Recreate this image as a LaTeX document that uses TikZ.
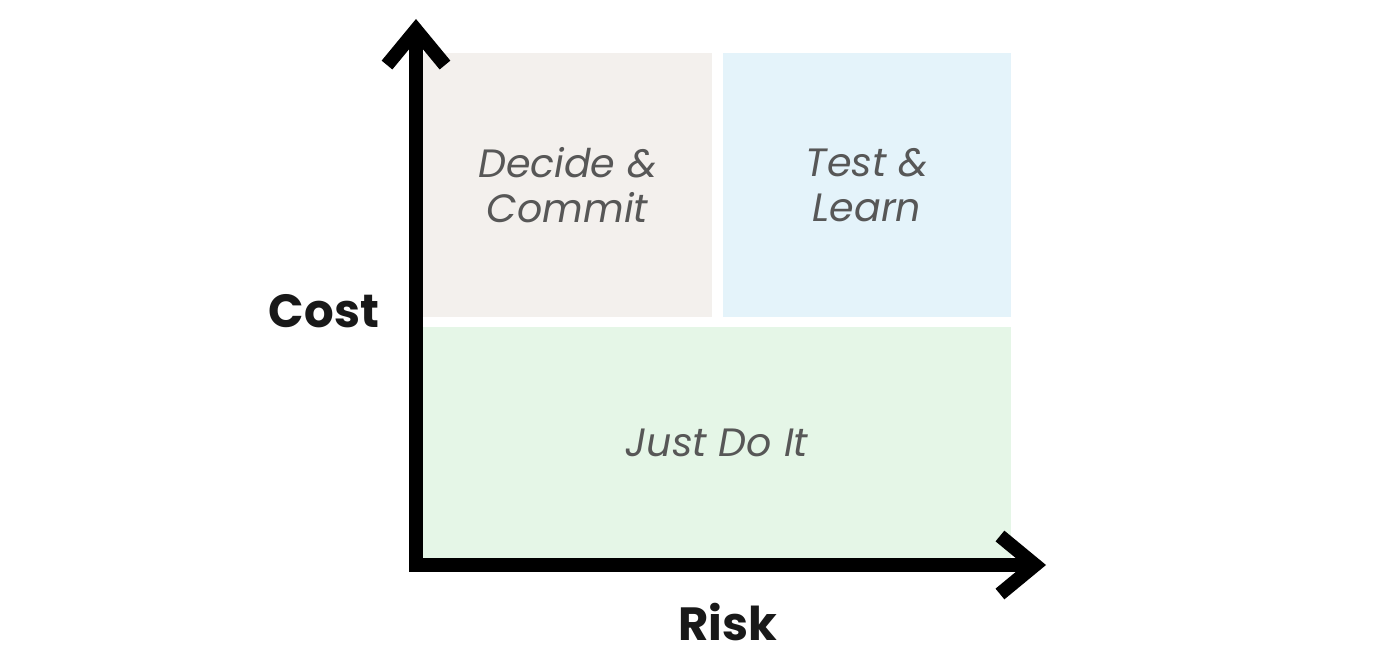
\documentclass[tikz,border=0pt]{standalone}
\usepackage{fontspec}
\setmainfont{Poppins}
\usepackage{tikz}
\usetikzlibrary{arrows.meta,positioning,calc}
\definecolor{quadDC}{HTML}{F3F0ED}
\definecolor{quadTL}{HTML}{E4F3FA}
\definecolor{quadJD}{HTML}{E5F6E7}
\definecolor{quadtxt}{HTML}{575757}

\begin{document}
\begin{tikzpicture}[
  quad/.style={rectangle,draw=none,inner sep=0pt,align=center,
    text=quadtxt,font=\fontsize{22.5}{25.5}\selectfont\itshape},
  axislbl/.style={font=\fontsize{26.5}{30}\selectfont\bfseries,text=black!90},
  axis/.style={line width=7.9pt,line join=miter,
    {Straight Barb[length=20pt,width=33pt]}-{Straight Barb[length=20pt,width=33pt]}}
]
% ── Fond et cadre ────────────────────────────────────────────────────────────
\useasboundingbox[fill=white](0,0)rectangle(28,13.1);

% ── Quadrants ────────────────────────────────────────────────────────────────
\node[quad,fill=quadDC,minimum width=5.78cm,minimum height=5.28cm]
  (DC) at (11.35,9.40) {Decide \&\\Commit};
\node[quad,fill=quadTL,minimum width=5.76cm,minimum height=5.28cm]
  (TL) at (17.34,9.40) {Test \&\\Learn};
\node[quad,fill=quadJD,minimum width=11.76cm,minimum height=4.62cm]
  (JD) at (14.34,4.25) {Just Do It};

% ── Axes ─────────────────────────────────────────────────────────────────────
\coordinate (O) at (8.32,1.80);
\coordinate (Ytip) at (8.32,12.72);
\coordinate (Xtip) at (20.92,1.80);
\draw[axis] (Ytip)--(O)--(Xtip);

% ── Libellés des axes ────────────────────────────────────────────────────────
\node[axislbl] (cost) at (6.48,6.88) {Cost};
\node[axislbl] (risk) at (14.56,0.66) {Risk};
\end{tikzpicture}
\end{document}
